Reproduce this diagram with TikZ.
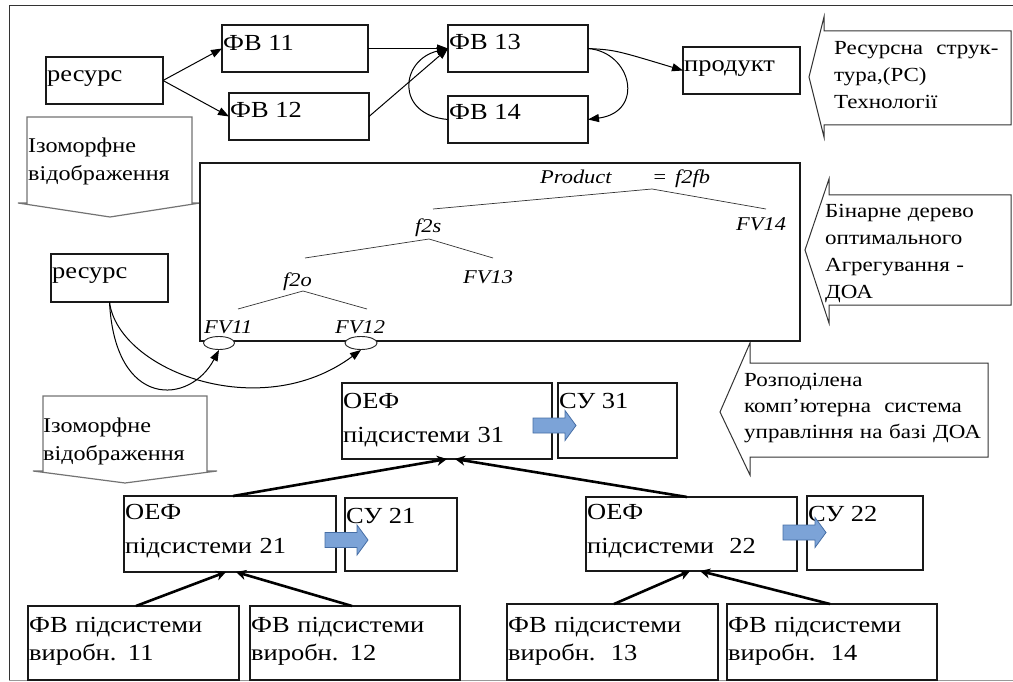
\documentclass[tikz,border=0pt]{standalone}
\usepackage{fontspec}
\setmainfont[FakeStretch=1.15]{Liberation Serif}
\usetikzlibrary{arrows.meta,shapes.geometric,calc}
\newcommand{\mkbox}[5]{\node[bx, anchor=north west, minimum width={(#4)-(#2)}, minimum height={(#5)-(#3)}] (#1) at (#2,#3) {};}
\newcommand{\bluearr}[2]{\draw[barr] (#1,#2-7.5) -- (#1+32,#2-7.5) -- (#1+32,#2-15) -- (#1+43,#2) -- (#1+32,#2+15) -- (#1+32,#2+7.5) -- (#1,#2+7.5) -- cycle;}
\definecolor{bfill}{RGB}{124,163,215}
\definecolor{bline}{RGB}{70,110,165}
\tikzset{
  bx/.style={draw=black!90, line width=1.1pt, inner sep=0pt, outer sep=0pt},
  tx/.style={inner sep=0pt, anchor=base west, font=\fontsize{23}{28}\selectfont},
  txm/.style={tx, text width=260pt, align=left, font=\fontsize{23}{34}\selectfont},
  txf/.style={tx, text width=230pt, align=left, font=\fontsize{23}{28}\selectfont},
  ctx/.style={inner sep=0pt, anchor=base west, text width=260pt, align=left, font=\fontsize{20}{27}\selectfont},
  itx/.style={inner sep=0pt, anchor=base west, text width=200pt, align=left, font=\fontsize{21}{28}\selectfont},
  it/.style={inner sep=0pt, anchor=base west, font=\fontsize{19.5}{22}\selectfont\itshape},
  br/.style={line width=0.7pt, draw=black!80},
  ell/.style={ellipse, draw=black!85, line width=0.9pt, fill=white, inner sep=0pt},
  arr/.style={line width=1pt, -{Triangle[length=11pt,width=8pt]}},
  tarr/.style={line width=2.6pt, -{Stealth[length=10pt,width=10pt,inset=3pt]}},
  co/.style={draw=black!80, line width=1pt, fill=white},
  iso/.style={draw=black!55, line width=1.2pt, fill=white},
  barr/.style={draw=bline, line width=0.8pt, fill=bfill},
}
\begin{document}
\begin{tikzpicture}[x=1pt,y=-1pt]
\useasboundingbox (0,0) rectangle (1013,682);
% frame
\draw[line width=1pt, black!80] (1013,6) -- (9,6) -- (9,680);
\draw[line width=1pt, black!40] (9,680) -- (1013,680);

% callouts (right)
\draw[co] (809,77) -- (824,17) -- (824,31) -- (1011,31) -- (1011,125) -- (824,125) -- (824,137) -- cycle;
\draw[co] (805,250) -- (829,179) -- (829,195) -- (1011,195) -- (1011,305) -- (829,305) -- (829,323) -- cycle;
\draw[co] (720,412) -- (750,343) -- (750,363) -- (988,363) -- (988,457) -- (750,457) -- (750,475) -- cycle;
\node[ctx] (c1) at (834,55) {Ресурсна\ \ струк-\\тура,(РС)\\Технології};
\node[ctx] (c2) at (825,218) {Бінарне дерево\\оптимального\\Агрегування -\\ДОА};
\node[ctx, font=\fontsize{20}{26}\selectfont] (c3) at (744,386) {Розподілена\\комп’ютерна\ \ система\\управління на базі ДОА};

% isomorphic arrows (left)
\draw[iso] (27,117) -- (192,117) -- (192,203) -- (200,203) -- (110,217) -- (18,203) -- (27,203) -- cycle;
\draw[iso] (43,396) -- (207,396) -- (207,471) -- (217,471) -- (125,483) -- (33,471) -- (43,471) -- cycle;
\node[itx] (i1) at (28,153) {Ізоморфне\\відображення};
\node[itx] (i2) at (43,432) {Ізоморфне\\відображення};

% top row
\mkbox{r1}{46}{57}{163}{104}
\mkbox{f11}{222}{25}{368}{72}
\mkbox{f12}{229}{93}{369}{140}
\mkbox{f13}{448}{25}{588}{72}
\mkbox{f14}{448}{96}{588}{143}
\mkbox{prod}{683}{47}{800}{94}
\node[tx] (r1t) at ([shift={(1,25)}]r1.north west) {ресурс};
\node[tx] (f11t) at ([shift={(1,26)}]f11.north west) {ФВ 11};
\node[tx] (f12t) at ([shift={(1,25)}]f12.north west) {ФВ 12};
\node[tx] (f13t) at ([shift={(1,25)}]f13.north west) {ФВ 13};
\node[tx] (f14t) at ([shift={(1,24)}]f14.north west) {ФВ 14};
\node[tx] (prodt) at ([shift={(1,25)}]prod.north west) {продукт};

\draw[arr] (r1.east) -- (f11.west);
\draw[arr] (r1.east) -- (f12.west);
\draw[arr] (f11.east) -- (f13.west);
\draw[arr] (f12.east) -- (f13.west);
\draw[arr] (f14.west) .. controls (395,115) and (400,60) .. (f13.west);
\draw[arr] (f13.east) .. controls (615,50) .. (prod.west);
\draw[arr] (f13.east) .. controls (632,52) and (645,112) .. (f14.east);

% tree box
\mkbox{tree}{200}{163}{800}{341}
\mkbox{r2}{51}{254}{168}{302}
\node[tx] (r2t) at ([shift={(1,24)}]r2.north west) {ресурс};

\node[it] (lprod) at (540,184) {Product};
\node[it] (leq) at (652,184) {=};
\node[it] (lf2fb) at (675,184) {f2fb};
\node[it] (ls) at (415,233) {f2s};
\node[it] (lo) at (283,286) {f2o};
\node[it] (l13) at (463,283) {FV13};
\node[it] (l14) at (736,231) {FV14};
\node[it] (l11) at (204,333) {FV11};
\node[it] (l12) at (335,333) {FV12};

\coordinate (pk0) at (652,189); \coordinate (b0l) at (433,209); \coordinate (b0r) at (766,209);
\coordinate (pk1) at (429,239); \coordinate (b1l) at (305,258); \coordinate (b1r) at (493,258);
\coordinate (pk2) at (303,291); \coordinate (b2l) at (238,309); \coordinate (b2r) at (367,309);
\draw[br] (b0l) -- (pk0) -- (b0r);
\draw[br] (b1l) -- (pk1) -- (b1r);
\draw[br] (b2l) -- (pk2) -- (b2r);

\node[ell, minimum width=31pt, minimum height=13pt] (e11) at (219,343) {};
\node[ell, minimum width=32pt, minimum height=13pt] (e12) at (361,343) {};

\draw[arr] (r2.south) .. controls (115,410) and (190,405) .. (e11.south);
\draw[arr] (r2.south) .. controls (118,370) and (260,425) .. (e12.south);

% lower hierarchy
\mkbox{oef31}{342}{383}{552}{459}
\mkbox{su31}{558}{383}{677}{458}
\mkbox{oef21}{124}{496}{336}{572}
\mkbox{su21}{345}{498}{457}{571}
\mkbox{oef22}{586}{497}{797}{571}
\mkbox{su22}{807}{496}{923}{570}
\mkbox{fv11}{28}{606}{239}{680}
\mkbox{fv12}{250}{606}{460}{680}
\mkbox{fv13}{507}{604}{718}{680}
\mkbox{fv14}{727}{604}{937}{680}

\node[txm] (oef31t) at ([shift={(1,25)}]oef31.north west) {ОЕФ\\підсистеми 31};
\node[txm] (oef21t) at ([shift={(1,23)}]oef21.north west) {ОЕФ\\підсистеми 21};
\node[txm] (oef22t) at ([shift={(1,22)}]oef22.north west) {ОЕФ\\підсистеми\ \ 22};
\node[tx] (su31t) at ([shift={(1,25)}]su31.north west) {СУ 31};
\node[tx] (su21t) at ([shift={(1,25)}]su21.north west) {СУ 21};
\node[tx] (su22t) at ([shift={(1,25)}]su22.north west) {СУ 22};
\node[txf] (fv11t) at ([shift={(1,26)}]fv11.north west) {ФВ підсистеми\\виробн. 11};
\node[txf] (fv12t) at ([shift={(1,26)}]fv12.north west) {ФВ підсистеми\\виробн. 12};
\node[txf] (fv13t) at ([shift={(1,28)}]fv13.north west) {ФВ підсистеми\\виробн.\ \ 13};
\node[txf] (fv14t) at ([shift={(1,28)}]fv14.north west) {ФВ підсистеми\\виробн.\ \ 14};

\bluearr{533}{425.5}
\bluearr{325}{540}
\bluearr{783}{532.5}

\draw[tarr] ([xshift=109pt]oef21.north west) -- ([xshift=105pt]oef31.south west);
\draw[tarr] ([xshift=101pt]oef22.north west) -- ([xshift=113pt]oef31.south west);
\draw[tarr] ([xshift=108pt]fv11.north west) -- ([xshift=102pt]oef21.south west);
\draw[tarr] ([xshift=102pt]fv12.north west) -- ([xshift=112pt]oef21.south west);
\draw[tarr] ([xshift=107pt]fv13.north west) -- ([xshift=104pt]oef22.south west);
\draw[tarr] ([xshift=103pt]fv14.north west) -- ([xshift=114pt]oef22.south west);
\end{tikzpicture}
\end{document}
